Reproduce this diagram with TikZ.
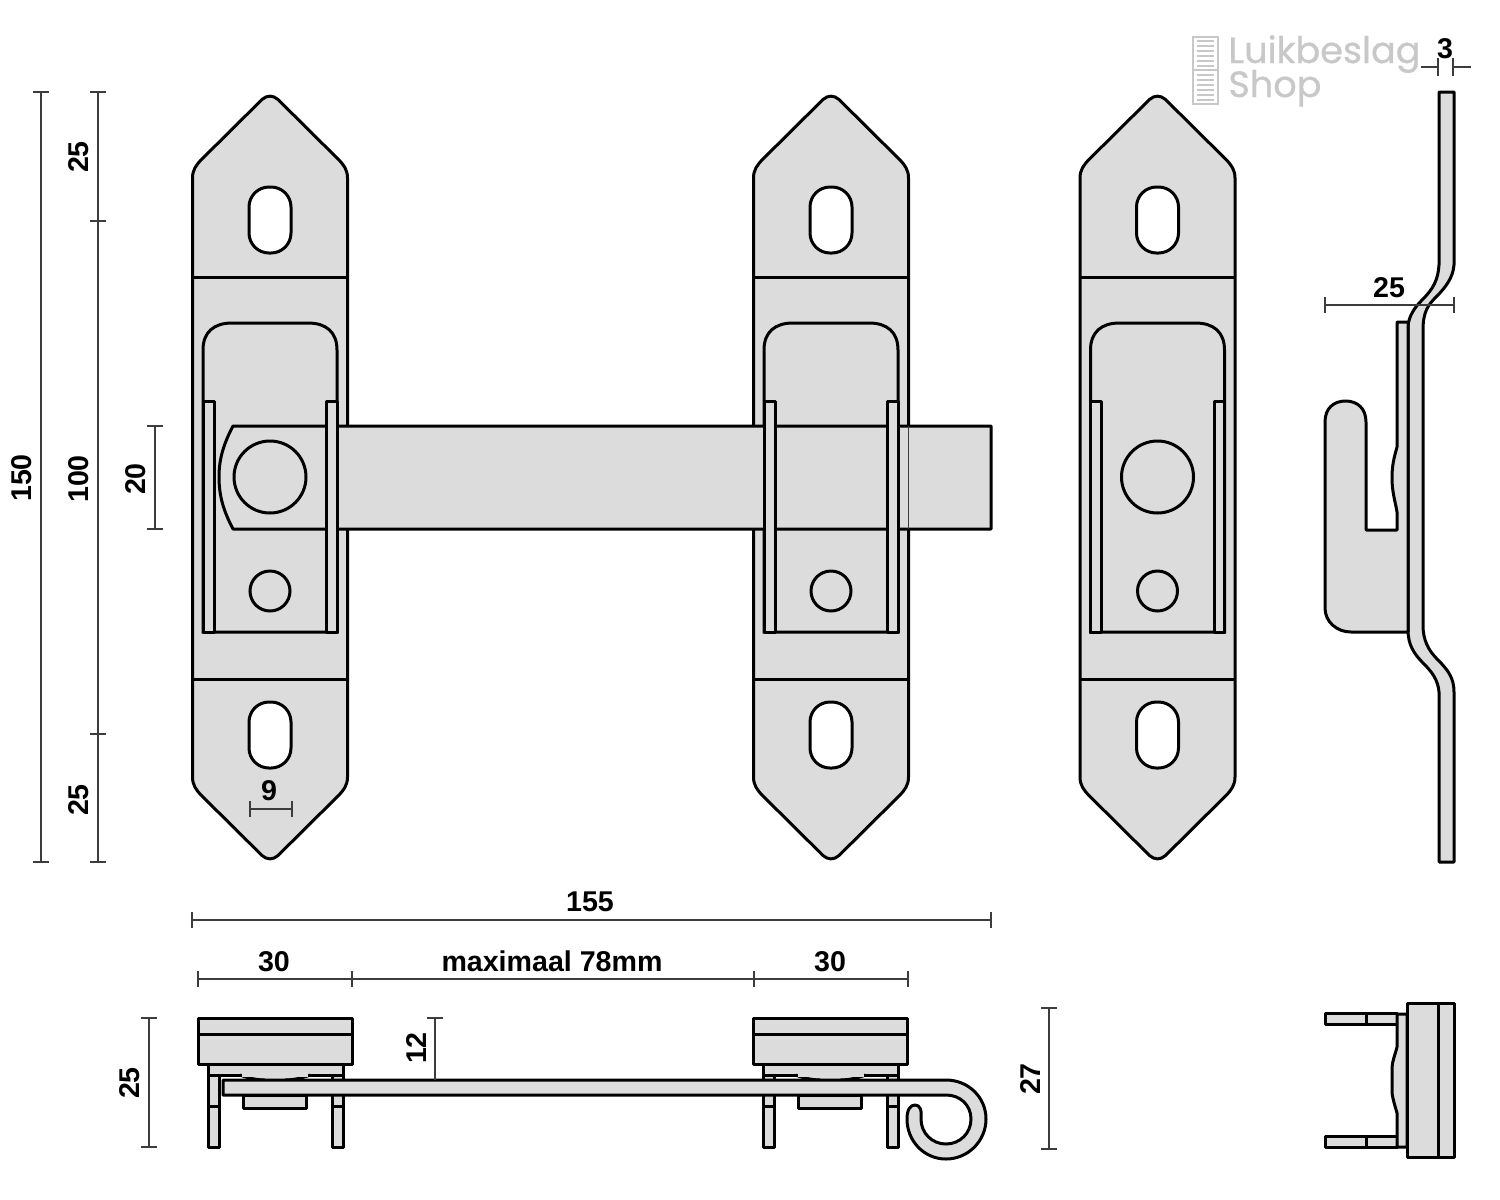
\documentclass[tikz,border=0pt]{standalone}
\usepackage{fontspec}
\setmainfont{Liberation Sans}
\newfontfamily\logofont[FakeBold=0.6]{Poppins}
\definecolor{metal}{HTML}{DCDCDC}
\definecolor{dimgray}{HTML}{3C3C3C}
\definecolor{logogray}{HTML}{C8C8C8}
\tikzset{
  part/.style={draw=black,line width=1.5pt,fill=metal,line join=round},
  hole/.style={draw=black,line width=1.5pt,fill=white},
  inner/.style={draw=black,line width=1.5pt},
  dimline/.style={draw=dimgray,line width=0.55pt},
  dimtext/.style={font=\bfseries\fontsize{14.3}{14}\selectfont,text=black,inner sep=0pt},
  logo/.style={draw=logogray,line width=1.1pt},
}
\newcommand{\plateview}[1]{%
  \begin{scope}[shift={(#1,0)}]
    \path[part] (-77.5,178) .. controls (-77.5,170) and (-74,165) .. (-68,159) -- (-8,99.5)
      .. controls (-3,95) and (3,95) .. (8,99.5) -- (68,159)
      .. controls (74,165) and (77.5,170) .. (77.5,178) -- (77.5,777)
      .. controls (77.5,785) and (74,790) .. (68,796) -- (8,855.5)
      .. controls (3,860) and (-3,860) .. (-8,855.5) -- (-68,796)
      .. controls (-74,790) and (-77.5,785) .. (-77.5,777) -- cycle;
    \draw[inner] (-77.5,277) -- (77.5,277) (-77.5,679) -- (77.5,679);
    \draw[hole,rounded corners=10pt] (-21,187) rectangle (21,253);
    \draw[hole,rounded corners=10pt] (-21,702) rectangle (21,768);
    \draw[inner] (-67,632) -- (-67,350) .. controls (-67,332) and (-56,323) .. (-38,323)
      -- (38,323) .. controls (56,323) and (67,332) .. (67,350) -- (67,632) -- cycle;
    \draw[inner] (0,591) circle (20);
  \end{scope}}
\newcommand{\slideview}[1]{%
  \begin{scope}[shift={(#1,0)}]
    \path[part] (-67,632) -- (-67,401) -- (-56,401) -- (-56,632) -- cycle;
    \path[part] (56.5,632) -- (56.5,401) -- (67,401) -- (67,632) -- cycle;
  \end{scope}}
\newcommand{\topview}[1]{%
  \begin{scope}[shift={(#1,0)}]
    \path[part] (-62,1064) rectangle (73,1075);
    \path[part] (-62,1075) rectangle (-51,1147);
    \path[part] (62,1075) rectangle (73,1147);
    \draw[inner] (-62,1106) -- (-51,1106) (62,1106) -- (73,1106);
    \path[fill=metal] (-30,1074) .. controls (-15,1079) and (-5,1081) .. (5,1081)
      .. controls (15,1081) and (25,1079) .. (40,1074) -- cycle;
    \draw[inner] (-30,1075) .. controls (-20,1079) and (-10,1080) .. (-5,1080)
      (15,1080) .. controls (20,1080) and (30,1079) .. (40,1075);
    \path[fill=metal] (-28,1073) rectangle (38,1076.5);
    \path[part] (-72,1018) rectangle (82,1064);
    \draw[inner] (-72,1034) -- (82,1034);
    \path[part] (-27,1095) rectangle (36,1108);
  \end{scope}}
\newcommand{\dimv}[3]{\draw[dimline] (#1,#2) -- (#1,#3)
   (#1-8,#2) -- (#1+8,#2) (#1-8,#3) -- (#1+8,#3);}
\newcommand{\dimh}[3]{\draw[dimline] (#2,#1) -- (#3,#1)
   (#2,#1-8) -- (#2,#1+8) (#3,#1-8) -- (#3,#1+8);}
\begin{document}
\begin{tikzpicture}[x=0.5pt,y=-0.5pt]
\useasboundingbox (0,0) rectangle (1500,1200);
\fill[white] (0,0) rectangle (1500,1200);

% front views
\plateview{270}
\plateview{831}
\plateview{1157.5}
\path[part] (991,426) -- (233,426) .. controls (223,445) and (219,460) .. (219,477)
  .. controls (219,495) and (223,510) .. (233,529) -- (991,529) -- cycle;
\draw[dimline] (908.5,426) -- (908.5,529);
\draw[inner] (270,477) circle (36);
\draw[inner] (1157.5,477) circle (36);
\slideview{270}
\slideview{831}
\slideview{1157.5}

% side view
\path[part] (1439,92) -- (1454,92) -- (1454,265) .. controls (1453,278) and (1445,288) .. (1436,297)
  .. controls (1428,305) and (1423,312) .. (1423,330) -- (1423,625)
  .. controls (1423,640) and (1428,650) .. (1438,660)
  .. controls (1448,670) and (1454,678) .. (1454,692) -- (1454,862) -- (1439,862) -- (1439,692)
  .. controls (1438,680) and (1432,672) .. (1424,664)
  .. controls (1414,654) and (1408,645) .. (1408,630) -- (1408,326)
  .. controls (1409,316) and (1414,308) .. (1423,299)
  .. controls (1433,289) and (1438,280) .. (1439,265) -- cycle;
\path[part] (1408,322) -- (1397,322) -- (1397,447) .. controls (1394,458) and (1392,465) .. (1392,478)
  .. controls (1392,492) and (1395,500) .. (1397,512) -- (1397,530) -- (1366,530) -- (1366,422)
  .. controls (1366,408) and (1357,401) .. (1345.5,401)
  .. controls (1334,401) and (1325,408) .. (1325,422) -- (1325,608)
  .. controls (1325,622) and (1337,632) .. (1351,632) -- (1408,632) -- cycle;

% top views
\topview{270}
\topview{825.5}
\path[part] (223,1080) -- (946,1080) .. controls (968,1080) and (986,1097) .. (986,1119)
  .. controls (986,1141) and (968,1159) .. (946,1159)
  .. controls (924,1159) and (907,1141) .. (907,1119)
  .. controls (907,1110) and (910,1105) .. (915,1105)
  .. controls (920,1105) and (922,1110) .. (921,1119)
  .. controls (921,1133) and (932,1144) .. (946,1144)
  .. controls (960,1144) and (971,1133) .. (971,1119)
  .. controls (971,1105) and (960,1095) .. (946,1095) -- (223,1095) -- cycle;

% end view
\path[part] (1325,1013) rectangle (1397,1024);
\path[part] (1325,1136) rectangle (1397,1147);
\draw[inner] (1366,1013) -- (1366,1024) (1366,1136) -- (1366,1147);
\path[fill=metal] (1407,1014) rectangle (1398,1147);
\path[part] (1407,1014) -- (1397,1014) -- (1397,1047) .. controls (1395,1055) and (1392,1062) .. (1392,1068)
  -- (1392,1093) .. controls (1393,1100) and (1395,1106) .. (1397,1113) -- (1397,1147) -- (1407,1147) -- cycle;
\path[part] (1407,1003) rectangle (1454,1157);
\draw[inner] (1438,1003) -- (1438,1157);

% dimension lines
\dimv{41}{92}{862}
\draw[dimline] (98,92) -- (98,862) (90,92) -- (106,92) (90,221) -- (106,221)
  (90,734) -- (106,734) (90,862) -- (106,862);
\dimv{155}{426}{529}
\dimh{809}{250}{292}
\dimh{920}{192}{991}
\draw[dimline] (198,979) -- (908,979) (198,971) -- (198,987) (352,971) -- (352,987)
  (754,971) -- (754,987) (908,971) -- (908,987);
\dimv{149}{1018}{1147}
\draw[dimline] (435,1018) -- (435,1080) (427,1018) -- (443,1018);
\dimv{1049}{1008}{1149}
\dimh{305}{1325}{1454}
\draw[dimline] (1421,67) -- (1438,67) (1453,67) -- (1471,67) (1438,58) -- (1438,76) (1453,58) -- (1453,76);

% dimension texts
\node[dimtext,rotate=90] (t150) at (22,478) {150};
\node[dimtext,rotate=90] (t25a) at (79,157) {25};
\node[dimtext,rotate=90] (t100) at (79,479) {100};
\node[dimtext,rotate=90] (t25b) at (79,800) {25};
\node[dimtext,rotate=90] (t20) at (136,479) {20};
\node[dimtext] (t9) at (269,791) {9};
\node[dimtext] (t155) at (590,902) {155};
\node[dimtext] (t30a) at (274,962) {30};
\node[dimtext] (tmax) at (552,961) {maximaal 78mm};
\node[dimtext] (t30b) at (830,962) {30};
\node[dimtext,rotate=90] (t25c) at (130,1083) {25};
\node[dimtext,rotate=90] (t12) at (417,1048) {12};
\node[dimtext,rotate=90] (t27) at (1031,1079) {27};
\node[dimtext] (t25d) at (1389,288) {25};
\node[dimtext] (t3) at (1445,49) {3};

% logo
\draw[logo] (1193,37) rectangle (1218,104) (1193,70) -- (1218,70);
\foreach \yy in {41,46,51,56,61,66,75,80,85,90,95,100}
  \draw[logo,line width=0.8pt] (1197,\yy) -- (1214,\yy);
\node[anchor=base west,inner sep=0pt,text=logogray,font=\logofont\fontsize{18.3}{18}\selectfont] (logoa) at (1228,63) {Luikbeslag};
\node[anchor=base west,inner sep=0pt,text=logogray,font=\logofont\fontsize{18.3}{18}\selectfont] (logob) at (1228,97) {Shop};
\end{tikzpicture}
\end{document}
